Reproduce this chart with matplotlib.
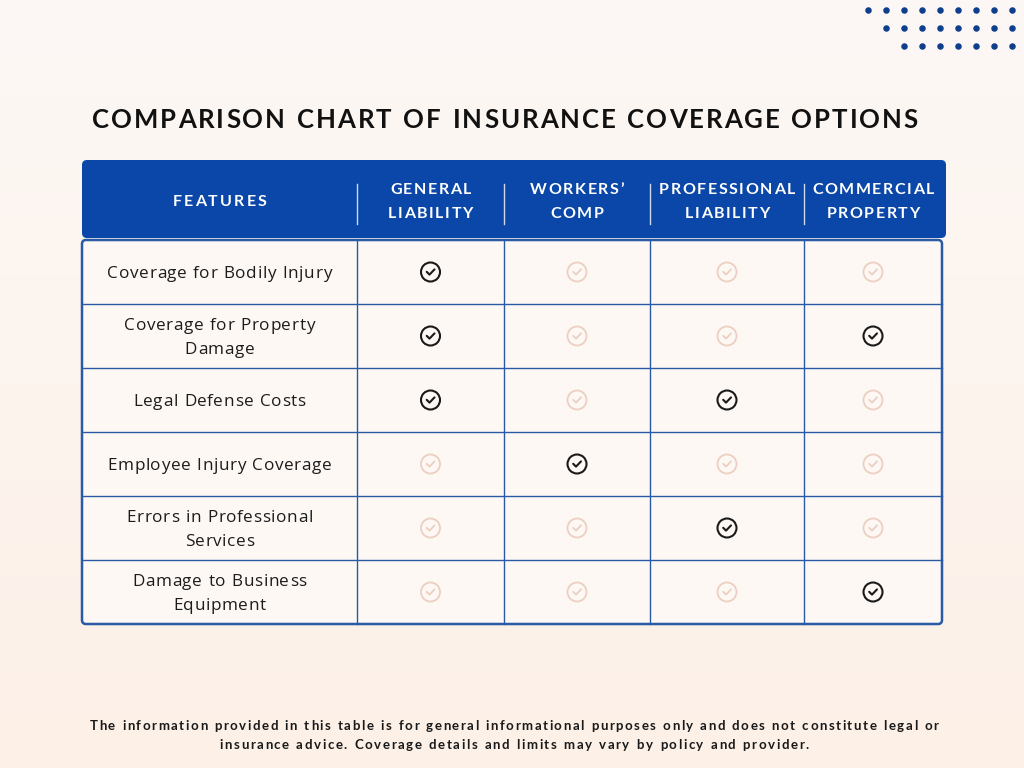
import numpy as np
import matplotlib
matplotlib.use("Agg")
import matplotlib.pyplot as plt
from matplotlib.patches import FancyBboxPatch, Circle

# ---------------- data ----------------
title = "COMPARISON CHART OF INSURANCE COVERAGE OPTIONS"
columns = ["FEATURES", "GENERAL\nLIABILITY", "WORKERS’\nCOMP", "PROFESSIONAL\nLIABILITY", "COMMERCIAL\nPROPERTY"]
features = ["Coverage for Bodily Injury", "Coverage for Property\nDamage", "Legal Defense Costs",
            "Employee Injury Coverage", "Errors in Professional\nServices", "Damage to Business\nEquipment"]
general_liability = [1, 1, 1, 0, 0, 0]
workers_comp = [0, 0, 0, 1, 0, 0]
professional_liability = [0, 0, 1, 0, 1, 0]
commercial_property = [0, 1, 0, 0, 0, 1]
footnote = ["The information provided in this table is for general informational purposes only and does not constitute legal or",
            "insurance advice. Coverage details and limits may vary by policy and provider."]

coverage = [general_liability, workers_comp, professional_liability, commercial_property]

# ---------------- style ----------------
BLUE = "#0a47a8"
LINE = "#2a5aa6"
DOT = "#0f3f8c"
DARK = "#1a1a1a"
LIGHT = "#eccfc2"
FONT = "Lato"

fig = plt.figure(figsize=(10.24, 7.68), dpi=100)
ax = fig.add_axes([0, 0, 1, 1])
ax.set_xlim(0, 1024)
ax.set_ylim(768, 0)
ax.axis("off")

# background gradient
grad = np.linspace(0, 1, 256)[:, None]
c1 = np.array([253, 248, 245]) / 255
c2 = np.array([252, 240, 231]) / 255
img = c1 + (c2 - c1) * grad[..., None]
img = np.repeat(img, 2, axis=1)
ax.imshow(img, extent=[0, 1024, 768, 0], aspect="auto", zorder=0)

renderer = fig.canvas.get_renderer()


def char_widths(s, **kw):
    widths = []
    for ch in s:
        t = ax.text(0, 0, ch if ch != " " else "i", **kw)
        w = t.get_window_extent(renderer).width
        if ch == " ":
            w *= 1.2
        widths.append(w)
        t.remove()
    return widths


def spaced_text(xc, y, s, spacing=None, total_width=None, **kw):
    """Draw text centered at xc with letter spacing (px) or fitted to total_width."""
    widths = char_widths(s, **kw)
    base = sum(widths)
    n = len(s)
    if total_width is not None:
        sp = (total_width - base) / (n - 1) if n > 1 else 0
    else:
        sp = spacing
    tw = base + sp * (n - 1)
    x = xc - tw / 2
    for ch, w in zip(s, widths):
        if ch != " ":
            ax.text(x, y, ch, ha="left", va="center", **kw)
        x += w + sp


# decorative dots
dot_rows = [(10, 9), (28, 8), (46, 7)]
for yy, n in dot_rows:
    xs = 1012 - 18 * np.arange(n)
    ax.scatter(xs, [yy] * n, s=22, color=DOT, zorder=2, linewidths=0)

# title
spaced_text(505, 120.5, title, total_width=826, fontsize=18.5, fontweight="bold", color="#111111",
            family=FONT, zorder=3)

# layout
col_edges = [82, 357, 504, 650, 804, 942]
row_edges = [240, 304, 368, 432, 496, 560, 624]
hdr_top, hdr_bot = 160, 238

# header box
hdr = FancyBboxPatch((82, hdr_top), 864, hdr_bot - hdr_top, boxstyle="round,pad=0,rounding_size=5",
                     facecolor=BLUE, edgecolor="none", zorder=2)
ax.add_patch(hdr)
for xe in col_edges[1:-1]:
    ax.plot([xe, xe], [184, 224], color="white", lw=1.0, alpha=0.8, zorder=3)

for i, lab in enumerate(columns):
    xc = (col_edges[i] + col_edges[i + 1]) / 2
    lines = lab.split("\n")
    if len(lines) == 1:
        spaced_text(xc, 202, lines[0], spacing=2.2, fontsize=11.5, fontweight="bold",
                    color="white", family=FONT, zorder=4)
    else:
        for j, ln in enumerate(lines):
            spaced_text(xc, 190 + 24 * j, ln, spacing=1.6, fontsize=11.5, fontweight="bold",
                        color="white", family=FONT, zorder=4)

# body
body = FancyBboxPatch((82, 240), 860, 384, boxstyle="round,pad=0,rounding_size=4",
                      facecolor="#fdf8f4", edgecolor=LINE, lw=1.8, zorder=2)
ax.add_patch(body)
for ye in row_edges[1:-1]:
    ax.plot([82, 942], [ye, ye], color=LINE, lw=1.0, zorder=3)
for xe in col_edges[1:-1]:
    ax.plot([xe, xe], [240, 624], color=LINE, lw=1.0, zorder=3)

# features
for r, feat in enumerate(features):
    yc = (row_edges[r] + row_edges[r + 1]) / 2 + 1.5
    xc = (col_edges[0] + col_edges[1]) / 2
    for j, ln in enumerate(feat.split("\n")):
        nl = len(feat.split("\n"))
        yy = yc + (j - (nl - 1) / 2) * 24
        spaced_text(xc, yy, ln, spacing=0.6, fontsize=12.3, color="#1c1c1c",
                    family="Open Sans", zorder=4)


def check(xc, yc, on):
    col = DARK if on else LIGHT
    lw = 1.5 if on else 1.3
    ax.add_patch(Circle((xc, yc), 9.5, facecolor="none", edgecolor=col, lw=lw, zorder=4))
    ax.plot([xc - 3.8, xc - 1.0, xc + 4.0], [yc - 0.2, yc + 2.6, yc - 2.6], color=col, lw=lw,
            solid_capstyle="round", solid_joinstyle="round", zorder=4)


for c, vals in enumerate(coverage):
    xc = (col_edges[c + 1] + col_edges[c + 2]) / 2
    for r, v in enumerate(vals):
        yc = (row_edges[r] + row_edges[r + 1]) / 2
        check(xc, yc, v)

# footnote
spaced_text(514, 726, footnote[0], spacing=1.55, fontsize=9.5, fontweight="bold", color="#1a1a1a",
            family=FONT, zorder=4)
spaced_text(514, 745, footnote[1], spacing=1.6, fontsize=9.5, fontweight="bold", color="#1a1a1a",
            family=FONT, zorder=4)

fig.savefig("out.png", dpi=100)
